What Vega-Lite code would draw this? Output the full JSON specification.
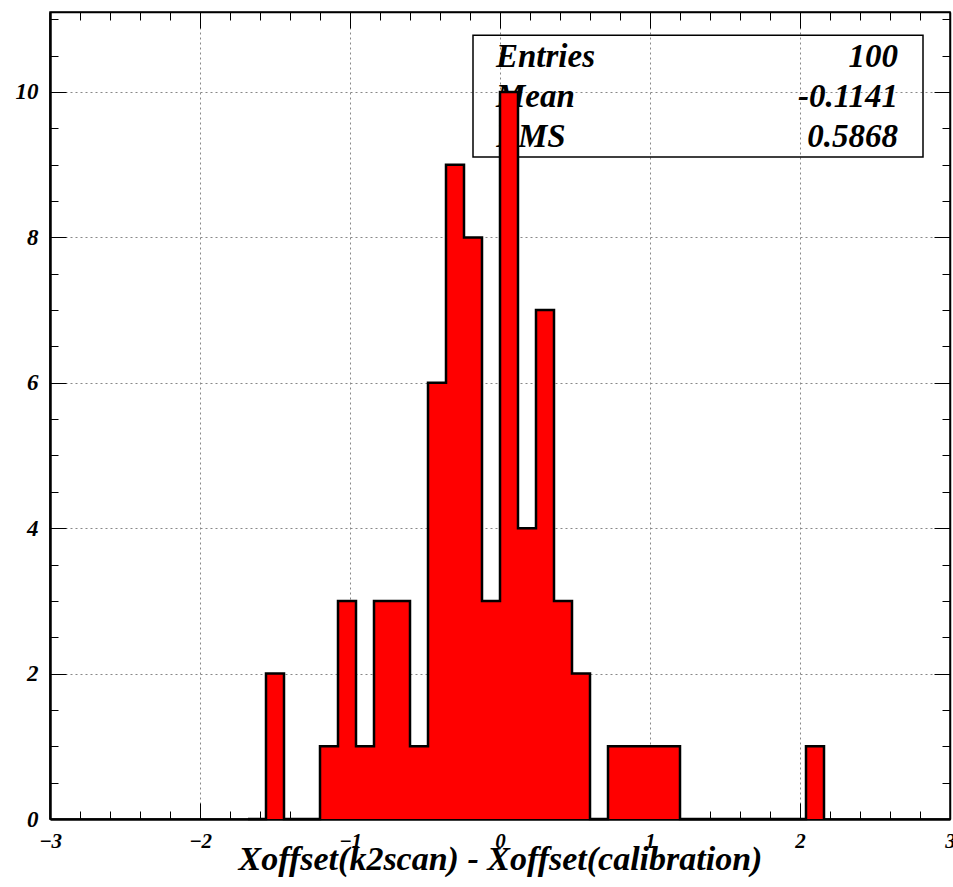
{
  "$schema": "https://vega.github.io/schema/vega-lite/v6.json",
  "width": 900,
  "height": 807,
  "autosize": "none",
  "padding": {"left": 50, "top": 12, "right": 3, "bottom": 68},
  "background": "white",
  "config": {
    "view": {"stroke": "black", "strokeWidth": 1.5},
    "font": "Liberation Serif",
    "axis": {"zindex": 1}
  },
  "datasets": {
    "hist": [
      {"lo": -1.68, "hi": -1.56, "count": 0},
      {"lo": -1.56, "hi": -1.44, "count": 2},
      {"lo": -1.44, "hi": -1.32, "count": 0},
      {"lo": -1.32, "hi": -1.20, "count": 0},
      {"lo": -1.20, "hi": -1.08, "count": 1},
      {"lo": -1.08, "hi": -0.96, "count": 3},
      {"lo": -0.96, "hi": -0.84, "count": 1},
      {"lo": -0.84, "hi": -0.72, "count": 3},
      {"lo": -0.72, "hi": -0.60, "count": 3},
      {"lo": -0.60, "hi": -0.48, "count": 1},
      {"lo": -0.48, "hi": -0.36, "count": 6},
      {"lo": -0.36, "hi": -0.24, "count": 9},
      {"lo": -0.24, "hi": -0.12, "count": 8},
      {"lo": -0.12, "hi": 0.00, "count": 3},
      {"lo": 0.00, "hi": 0.12, "count": 10},
      {"lo": 0.12, "hi": 0.24, "count": 4},
      {"lo": 0.24, "hi": 0.36, "count": 7},
      {"lo": 0.36, "hi": 0.48, "count": 3},
      {"lo": 0.48, "hi": 0.60, "count": 2},
      {"lo": 0.60, "hi": 0.72, "count": 0},
      {"lo": 0.72, "hi": 0.84, "count": 1},
      {"lo": 0.84, "hi": 0.96, "count": 1},
      {"lo": 0.96, "hi": 1.08, "count": 1},
      {"lo": 1.08, "hi": 1.20, "count": 1},
      {"lo": 1.20, "hi": 1.32, "count": 0},
      {"lo": 1.32, "hi": 1.44, "count": 0},
      {"lo": 1.44, "hi": 1.56, "count": 0},
      {"lo": 1.56, "hi": 1.68, "count": 0},
      {"lo": 1.68, "hi": 1.80, "count": 0},
      {"lo": 1.80, "hi": 1.92, "count": 0},
      {"lo": 1.92, "hi": 2.04, "count": 0},
      {"lo": 2.04, "hi": 2.16, "count": 1},
      {"lo": 2.16, "hi": 2.28, "count": 0}
    ],
    "stats": [
      {"label": "Entries", "value": "100"}
    ]
  },
  "resolve": {"axis": {"x": "independent", "y": "independent"}},
  "layer": [
    {
      "data": {"name": "stats"},
      "mark": {"type": "rect", "filled": false, "stroke": "black", "strokeWidth": 1.5},
      "encoding": {
        "x": {"datum": -0.18, "type": "quantitative",
          "scale": {"domain": [-3, 3], "nice": false, "zero": false},
          "axis": {
            "orient": "top", "title": null, "labels": false, "grid": false,
            "domainColor": "black", "domainWidth": 1.5,
            "values": [-3,-2.8,-2.6,-2.4,-2.2,-2,-1.8,-1.6,-1.4,-1.2,-1,-0.8,-0.6,-0.4,-0.2,0,0.2,0.4,0.6,0.8,1,1.2,1.4,1.6,1.8,2,2.2,2.4,2.6,2.8,3],
            "tickColor": "black", "tickWidth": 1,
            "tickSize": {"condition": {"test": "abs(datum.value - round(datum.value)) < 1e-6", "value": -16}, "value": -8}
          }
        },
        "x2": {"datum": 2.82},
        "y": {"datum": 10.78, "type": "quantitative",
          "scale": {"domain": [0, 11.1], "nice": false, "zero": true},
          "axis": {
            "orient": "right", "title": null, "labels": false, "grid": false,
            "domainColor": "black", "domainWidth": 1.5,
            "values": [0,0.5,1,1.5,2,2.5,3,3.5,4,4.5,5,5.5,6,6.5,7,7.5,8,8.5,9,9.5,10,10.5,11],
            "tickColor": "black", "tickWidth": 1,
            "tickSize": {"condition": {"test": "datum.value % 2 == 0", "value": -16}, "value": -8}
          }
        },
        "y2": {"datum": 9.106}
      }
    },
    {
      "data": {"name": "stats"},
      "mark": {"type": "text", "align": "left", "baseline": "alphabetic", "font": "Liberation Serif", "fontSize": 33, "fontStyle": "italic", "fontWeight": "bold", "color": "black"},
      "encoding": {
        "x": {"datum": -0.027, "type": "quantitative", "scale": {"domain": [-3, 3], "nice": false, "zero": false}, "axis": null},
        "y": {"datum": 10.34, "type": "quantitative", "scale": {"domain": [0, 11.1], "nice": false}, "axis": null},
        "text": {"field": "label"}
      }
    },
    {
      "data": {"name": "stats"},
      "mark": {"type": "text", "align": "right", "baseline": "alphabetic", "font": "Liberation Serif", "fontSize": 33, "fontStyle": "italic", "fontWeight": "bold", "color": "black"},
      "encoding": {
        "x": {"datum": 2.653, "type": "quantitative", "scale": {"domain": [-3, 3], "nice": false, "zero": false}, "axis": null},
        "y": {"datum": 10.34, "type": "quantitative", "scale": {"domain": [0, 11.1], "nice": false}, "axis": null},
        "text": {"field": "value"}
      }
    },
    {
      "data": {"name": "stats"},
      "mark": {"type": "text", "text": "Mean", "align": "left", "baseline": "alphabetic", "font": "Liberation Serif", "fontSize": 33, "fontStyle": "italic", "fontWeight": "bold", "color": "black"},
      "encoding": {
        "x": {"datum": -0.027, "type": "quantitative", "scale": {"domain": [-3, 3], "nice": false, "zero": false}, "axis": null},
        "y": {"datum": 9.8, "type": "quantitative", "scale": {"domain": [0, 11.1], "nice": false}, "axis": null}
      }
    },
    {
      "data": {"name": "stats"},
      "mark": {"type": "text", "text": "-0.1141", "align": "right", "baseline": "alphabetic", "font": "Liberation Serif", "fontSize": 33, "fontStyle": "italic", "fontWeight": "bold", "color": "black"},
      "encoding": {
        "x": {"datum": 2.653, "type": "quantitative", "scale": {"domain": [-3, 3], "nice": false, "zero": false}, "axis": null},
        "y": {"datum": 9.8, "type": "quantitative", "scale": {"domain": [0, 11.1], "nice": false}, "axis": null}
      }
    },
    {
      "data": {"name": "stats"},
      "mark": {"type": "text", "text": "RMS", "align": "left", "baseline": "alphabetic", "font": "Liberation Serif", "fontSize": 33, "fontStyle": "italic", "fontWeight": "bold", "color": "black"},
      "encoding": {
        "x": {"datum": -0.027, "type": "quantitative", "scale": {"domain": [-3, 3], "nice": false, "zero": false}, "axis": null},
        "y": {"datum": 9.24, "type": "quantitative", "scale": {"domain": [0, 11.1], "nice": false}, "axis": null}
      }
    },
    {
      "data": {"name": "stats"},
      "mark": {"type": "text", "text": "0.5868", "align": "right", "baseline": "alphabetic", "font": "Liberation Serif", "fontSize": 33, "fontStyle": "italic", "fontWeight": "bold", "color": "black"},
      "encoding": {
        "x": {"datum": 2.653, "type": "quantitative", "scale": {"domain": [-3, 3], "nice": false, "zero": false}, "axis": null},
        "y": {"datum": 9.24, "type": "quantitative", "scale": {"domain": [0, 11.1], "nice": false}, "axis": null}
      }
    },
    {
      "data": {"name": "hist"},
      "mark": {"type": "rect", "fill": "#ff0000", "strokeWidth": 0},
      "encoding": {
        "x": {"field": "lo", "type": "quantitative",
          "scale": {"domain": [-3, 3], "nice": false, "zero": false},
          "axis": {
            "orient": "bottom",
            "title": "Xoffset(k2scan) - Xoffset(calibration)",
            "titleFont": "Liberation Serif", "titleFontSize": 34, "titleFontStyle": "italic", "titleFontWeight": "bold", "titleColor": "black",
            "titleBaseline": "alphabetic", "titleY": 50,
            "values": [-3,-2.8,-2.6,-2.4,-2.2,-2,-1.8,-1.6,-1.4,-1.2,-1,-0.8,-0.6,-0.4,-0.2,0,0.2,0.4,0.6,0.8,1,1.2,1.4,1.6,1.8,2,2.2,2.4,2.6,2.8,3],
            "labelExpr": "abs(datum.value - round(datum.value)) < 1e-6 ? format(round(datum.value), 'd') : ''",
            "labelFont": "Liberation Serif", "labelFontSize": 21, "labelFontStyle": "italic", "labelFontWeight": "bold", "labelColor": "black",
            "labelPadding": 27, "labelFlush": false, "labelOverlap": false,
            "domainColor": "black", "domainWidth": 2.5,
            "tickColor": "black", "tickWidth": 1,
            "tickSize": {"condition": {"test": "abs(datum.value - round(datum.value)) < 1e-6", "value": -16}, "value": -8},
            "grid": true, "gridColor": "#888888", "gridDash": [2, 3], "gridWidth": 1,
            "gridOpacity": {"condition": {"test": "abs(datum.value - round(datum.value)) < 1e-6 && abs(datum.value) < 2.5", "value": 1}, "value": 0}
          }
        },
        "x2": {"field": "hi"},
        "y": {"field": "count", "type": "quantitative",
          "scale": {"domain": [0, 11.1], "nice": false},
          "axis": {
            "orient": "left", "title": null,
            "values": [0,0.5,1,1.5,2,2.5,3,3.5,4,4.5,5,5.5,6,6.5,7,7.5,8,8.5,9,9.5,10,10.5,11],
            "labelExpr": "datum.value % 2 == 0 && datum.value <= 10 ? format(datum.value, 'd') : ''",
            "labelFont": "Liberation Serif", "labelFontSize": 23, "labelFontStyle": "italic", "labelFontWeight": "bold", "labelColor": "black",
            "labelPadding": 28, "labelOverlap": false, "labelFlush": false,
            "domainColor": "black", "domainWidth": 2.5,
            "tickColor": "black", "tickWidth": 1,
            "tickSize": {"condition": {"test": "datum.value % 2 == 0", "value": -16}, "value": -8},
            "grid": true, "gridColor": "#888888", "gridDash": [2, 3], "gridWidth": 1,
            "gridOpacity": {"condition": {"test": "datum.value % 2 == 0 && datum.value > 0 && datum.value <= 10", "value": 1}, "value": 0}
          }
        },
        "y2": {"datum": 0}
      }
    },
    {
      "data": {"name": "hist"},
      "mark": {"type": "line", "interpolate": "step-after", "color": "black", "strokeWidth": 2.5},
      "encoding": {
        "x": {"field": "lo", "type": "quantitative", "scale": {"domain": [-3, 3], "nice": false, "zero": false}, "axis": null},
        "y": {"field": "count", "type": "quantitative", "scale": {"domain": [0, 11.1], "nice": false}, "axis": null}
      }
    }
  ]
}
